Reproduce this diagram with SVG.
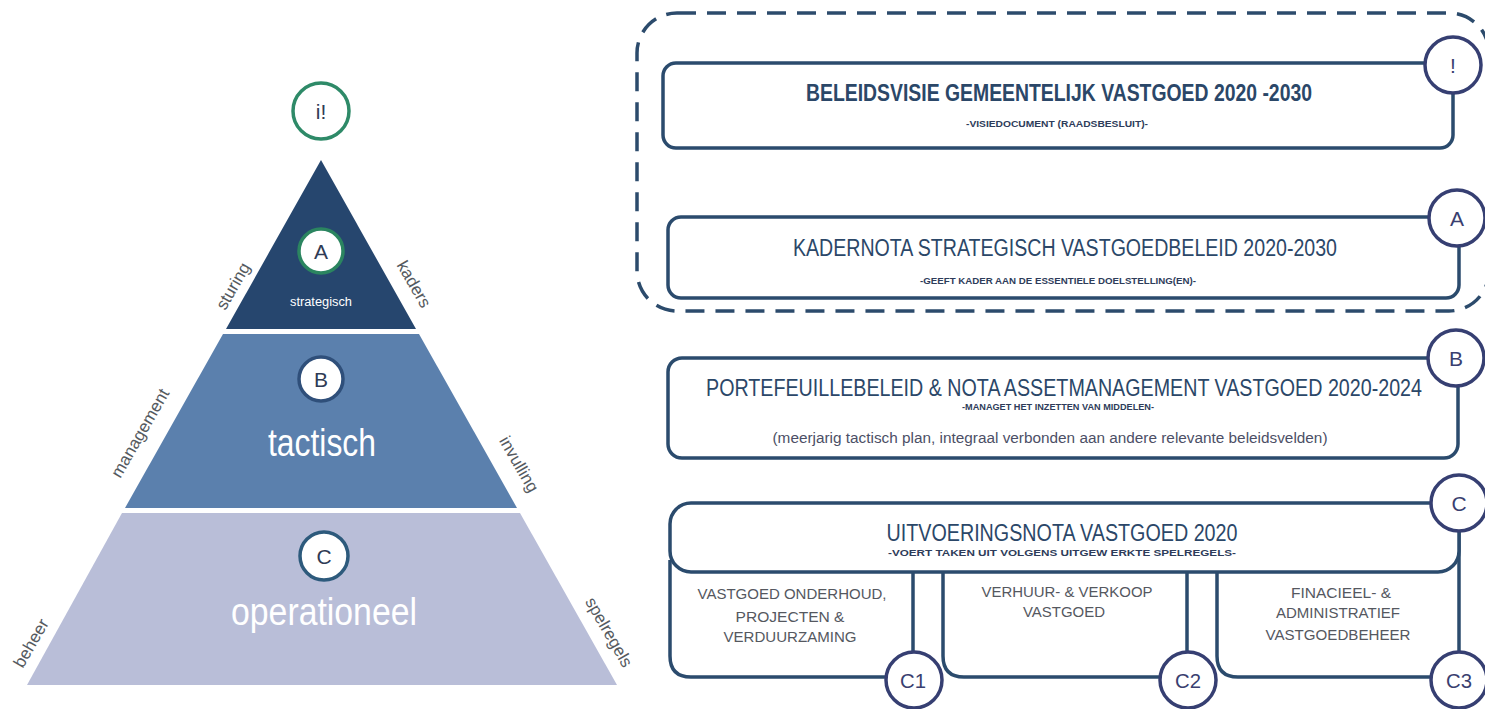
<svg xmlns="http://www.w3.org/2000/svg" width="1485" height="709" viewBox="0 0 1485 709">
  <style>
    .side { font-family: "Liberation Sans", Arial, sans-serif; font-size: 17px; fill: #555a60; text-anchor: middle; }
    .tier { font-family: "Liberation Sans", Arial, sans-serif; fill: #ffffff; text-anchor: middle; }
    .pcirc { fill: #ffffff; stroke-width: 3.5; }
    .pletter { font-family: "Liberation Sans", Arial, sans-serif; font-size: 21px; fill: #2f3b55; text-anchor: middle; }
    .box { fill: #ffffff; stroke: #2b4b6d; stroke-width: 3.5; }
    .line { fill: none; stroke: #2b4b6d; stroke-width: 3.5; }
    .tag { fill: #ffffff; stroke: #363f72; stroke-width: 3.5; }
    .tagtxt { font-family: "Liberation Sans", Arial, sans-serif; font-size: 21px; fill: #3a3f70; text-anchor: middle; }
    .title { font-family: "Liberation Sans", Arial, sans-serif; font-size: 23px; fill: #2b4768; text-anchor: middle; }
    .sub { font-family: "Liberation Sans", Arial, sans-serif; font-size: 9px; font-weight: bold; fill: #2e3c5a; text-anchor: middle; }
    .body { font-family: "Liberation Sans", Arial, sans-serif; font-size: 14px; fill: #4c4f66; text-anchor: middle; }
    .task { font-family: "Liberation Sans", Arial, sans-serif; font-size: 14.5px; fill: #55585f; text-anchor: middle; }
    .dash { fill: none; stroke: #2c4b6c; stroke-width: 3.5; stroke-dasharray: 19 11; }
  </style>

  <!-- pyramid tiers and side labels -->
  <g id="pyramid">
    <polygon id="tier-strategisch" points="321,160 226,329 416,329" fill="#26466e"/>
    <polygon id="tier-tactisch" points="223,334 419,334 517,508 125,508" fill="#5b80ad"/>
    <polygon id="tier-operationeel" points="122,513 520,513 617,685 27,685" fill="#b9bed8"/>

    <text class="tier" x="321" y="306" font-size="12.5" textLength="62" lengthAdjust="spacingAndGlyphs">strategisch</text>
    <text class="tier" x="322" y="456" font-size="38" fill="#e9eef6" textLength="108" lengthAdjust="spacingAndGlyphs">tactisch</text>
    <text class="tier" x="324" y="625" font-size="38" fill="#f2f2f7" textLength="186" lengthAdjust="spacingAndGlyphs">operationeel</text>

    <text class="side" transform="translate(238,289) rotate(-60)">sturing</text>
    <text class="side" transform="translate(409,287) rotate(60)">kaders</text>
    <text class="side" transform="translate(145,436) rotate(-60)">management</text>
    <text class="side" transform="translate(514,467) rotate(60)">invulling</text>
    <text class="side" transform="translate(36,646) rotate(-60)">beheer</text>
    <text class="side" transform="translate(604,635) rotate(60)">spelregels</text>
  </g>

  <g id="pyr-top">
    <circle class="pcirc" cx="321" cy="111" r="28" stroke="#2e8a68"/>
    <text class="pletter" x="321" y="119" font-size="22">i!</text>
  </g>
  <g id="pyr-a">
    <circle class="pcirc" cx="321" cy="251" r="22" stroke="#2b8560" stroke-width="4"/>
    <text class="pletter" x="321" y="259">A</text>
  </g>
  <g id="pyr-b">
    <circle class="pcirc" cx="321" cy="379" r="22" stroke="#2f4f7a"/>
    <text class="pletter" x="321" y="387" fill="#2c4a72">B</text>
  </g>
  <g id="pyr-c">
    <circle class="pcirc" cx="324" cy="556" r="24" stroke="#2d5a7c"/>
    <text class="pletter" x="324" y="564" fill="#2c4a72">C</text>
  </g>

  <!-- dashed frame around the strategic documents -->
  <g id="strategic-frame">
    <rect class="dash" x="637" y="13" width="852" height="298" rx="40"/>
  </g>

  <!-- connectors: vertical links and panel outlines -->
  <g id="connectors">
    <path class="line" d="M670,560 V656 Q670,677 691,677 H886"/>
    <path class="line" d="M913,572 V652"/>
    <path class="line" d="M943,572 V656 Q943,677 964,677 H1160"/>
    <path class="line" d="M1187,572 V652"/>
    <path class="line" d="M1217,572 V656 Q1217,677 1238,677 H1431"/>
    <path class="line" d="M1459,530 V652"/>
  </g>

  <g id="beleidsvisie">
    <rect class="box" x="663" y="63" width="790" height="85" rx="13"/>
    <text class="title" x="1059" y="101" font-weight="bold" textLength="506" lengthAdjust="spacingAndGlyphs">BELEIDSVISIE GEMEENTELIJK VASTGOED 2020 -2030</text>
    <text class="sub" x="1057" y="127" font-size="8" textLength="182" lengthAdjust="spacingAndGlyphs">-VISIEDOCUMENT (RAADSBESLUIT)-</text>
  </g>
  <g id="tag-visie">
    <circle class="tag" cx="1453" cy="65" r="28"/>
    <text class="tagtxt" x="1453" y="73">!</text>
  </g>

  <g id="kadernota">
    <rect class="box" x="668" y="217" width="791" height="81" rx="13"/>
    <text class="title" x="1065" y="256" textLength="544" lengthAdjust="spacingAndGlyphs">KADERNOTA STRATEGISCH VASTGOEDBELEID 2020-2030</text>
    <text class="sub" x="1058" y="284" font-size="8" textLength="276" lengthAdjust="spacingAndGlyphs">-GEEFT KADER AAN DE ESSENTIELE DOELSTELLING(EN)-</text>
  </g>
  <g id="tag-a">
    <circle class="tag" cx="1457" cy="218" r="28"/>
    <text class="tagtxt" x="1457" y="226">A</text>
  </g>

  <g id="portefeuille">
    <rect class="box" x="668" y="358" width="790" height="100" rx="14"/>
    <!-- long heading, squeezed horizontally to fit the box -->
    <text class="title" transform="translate(1064,396) scale(0.8,1)" x="0" y="0" font-size="22" textLength="895" lengthAdjust="spacingAndGlyphs">PORTEFEUILLEBELEID &amp; NOTA ASSETMANAGEMENT  VASTGOED 2020-2024</text>
    <text class="sub" x="1058" y="410" font-size="8" textLength="192" lengthAdjust="spacingAndGlyphs">-MANAGET HET INZETTEN VAN MIDDELEN-</text>
    <text class="body" x="1050" y="443" textLength="555" lengthAdjust="spacingAndGlyphs">(meerjarig tactisch plan, integraal  verbonden aan andere  relevante beleidsvelden)</text>
  </g>
  <g id="tag-b">
    <circle class="tag" cx="1456" cy="358" r="28"/>
    <text class="tagtxt" x="1456" y="366">B</text>
  </g>

  <g id="uitvoeringsnota">
    <rect class="box" x="670" y="503" width="789" height="69" rx="21"/>
    <text class="title" x="1062" y="541" fill="#2a5570" textLength="351" lengthAdjust="spacingAndGlyphs">UITVOERINGSNOTA VASTGOED 2020</text>
    <text class="sub" x="1062" y="556" font-size="10" font-weight="normal" fill="#333a4a" textLength="348" lengthAdjust="spacingAndGlyphs">-VOERT TAKEN UIT VOLGENS UITGEW ERKTE SPELREGELS-</text>
  </g>
  <g id="tag-c">
    <circle class="tag" cx="1459" cy="503" r="28"/>
    <text class="tagtxt" x="1459" y="511">C</text>
  </g>

  <g id="c1">
    <text class="task" x="792" y="599" textLength="189" lengthAdjust="spacingAndGlyphs">VASTGOED ONDERHOUD,</text>
    <text class="task" x="790" y="622" textLength="109" lengthAdjust="spacingAndGlyphs">PROJECTEN  &amp;</text>
    <text class="task" x="790" y="642" textLength="133" lengthAdjust="spacingAndGlyphs">VERDUURZAMING</text>
  </g>
  <g id="tag-c1">
    <circle class="tag" cx="914" cy="680" r="28"/>
    <text class="tagtxt" x="913" y="688" textLength="26" lengthAdjust="spacingAndGlyphs">C1</text>
  </g>

  <g id="c2">
    <text class="task" x="1067" y="597" textLength="171" lengthAdjust="spacingAndGlyphs">VERHUUR- &amp; VERKOOP</text>
    <text class="task" x="1064" y="617" textLength="82" lengthAdjust="spacingAndGlyphs">VASTGOED</text>
  </g>
  <g id="tag-c2">
    <circle class="tag" cx="1188" cy="680" r="28"/>
    <text class="tagtxt" x="1188" y="688" textLength="26" lengthAdjust="spacingAndGlyphs">C2</text>
  </g>

  <g id="c3">
    <text class="task" x="1341" y="598" textLength="100" lengthAdjust="spacingAndGlyphs">FINACIEEL-  &amp;</text>
    <text class="task" x="1338" y="618" textLength="124" lengthAdjust="spacingAndGlyphs">ADMINISTRATIEF</text>
    <text class="task" x="1338" y="640" textLength="145" lengthAdjust="spacingAndGlyphs">VASTGOEDBEHEER</text>
  </g>
  <g id="tag-c3">
    <circle class="tag" cx="1459" cy="680" r="28"/>
    <text class="tagtxt" x="1459" y="688" textLength="26" lengthAdjust="spacingAndGlyphs">C3</text>
  </g>
</svg>
